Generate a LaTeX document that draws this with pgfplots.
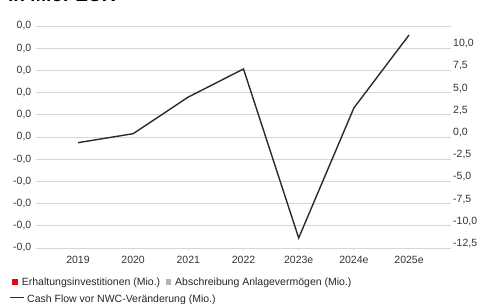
\documentclass[border=0pt]{standalone}
\usepackage{pgfplots}
\pgfplotsset{compat=1.18}
\usepackage{fontspec}
\setmainfont{Liberation Sans}
\definecolor{gridc}{HTML}{D6D6D6}
\definecolor{linec}{HTML}{2B2B2B}
\definecolor{txt}{HTML}{333333}
\definecolor{redc}{HTML}{E30613}
\definecolor{grayc}{HTML}{B3B3B3}
\begin{document}
\fontsize{10.5}{12}\selectfont
\begin{tikzpicture}[x=1pt,y=1pt]
\useasboundingbox (0,0) rectangle (482,304);
\begin{axis}[
  at={(36pt,56pt)}, anchor=south west, scale only axis,
  width=415pt, height=222pt,
  xmin=-0.76, xmax=6.76, ymin=-5, ymax=5,
  axis x line*=bottom, axis y line*=left, axis line style={draw=none},
  /pgf/number format/assume math mode=true,
  xtick={0,1,2,3,4,5,6},
  xticklabels={2019,2020,2021,2022,2023e,2024e,2025e},
  xtick style={draw=gridc, line width=0.8pt},
  major tick length=2.5pt, tick align=outside,
  xticklabel style={font=\fontsize{10.5}{12}\selectfont, text=txt, inner sep=0pt, anchor=north, yshift=-5pt},
  ytick={-5,-4,-3,-2,-1,0,1,2,3,4,5},
  yticklabels={{-0,0},{-0,0},{-0,0},{-0,0},{-0,0},{0,0},{0,0},{0,0},{0,0},{0,0},{0,0}},
  ytick style={draw=none},
  yticklabel style={font=\fontsize{10.5}{12}\selectfont, text=txt, inner sep=0pt, anchor=east, xshift=-2pt},
  ymajorgrids, grid style={draw=gridc, line width=0.8pt},
]
\addplot[draw=none] coordinates {(0,0)};
\end{axis}
\begin{axis}[
  at={(36pt,56pt)}, anchor=south west, scale only axis,
  width=415pt, height=222pt,
  xmin=-0.76, xmax=6.76, ymin=-13, ymax=12,
  axis y line*=right, axis x line=none, axis line style={draw=none},
  /pgf/number format/assume math mode=true,
  ytick={-12.5,-10,-7.5,-5,-2.5,0,2.5,5,7.5,10},
  yticklabels={{-12,5},{-10,0},{-7,5},{-5,0},{-2,5},{0,0},{2,5},{5,0},{7,5},{10,0}},
  ytick style={draw=none},
  yticklabel style={font=\fontsize{10.5}{12}\selectfont, text=txt, inner sep=0pt, anchor=west, xshift=2pt},
]
\addplot[linec, line width=1.4pt] coordinates {(0,-1.14) (1,-0.13) (2,4.0) (3,7.16) (4,-11.87) (5,2.77) (6,10.99)};
\end{axis}
\node[anchor=base west, inner sep=0pt, font=\bfseries\fontsize{19}{22}\selectfont] at (8,302) {in Mio. EUR};
\fill[redc] (11.5,19) rectangle (17.5,25);
\node[anchor=base west, inner sep=0pt, text=black!85] at (21.7,18.3) {Erhaltungsinvestitionen (Mio.)};
\fill[grayc] (165.5,19) rectangle (171.3,25);
\node[anchor=base west, inner sep=0pt, text=black!85] at (175,18.3) {Abschreibung Anlagevermögen (Mio.)};
\draw[linec, line width=1.3pt] (10,6.3) -- (24,6.3);
\node[anchor=base west, inner sep=0pt, text=black!85] at (27,1.3) {Cash Flow vor NWC-Veränderung (Mio.)};
\end{tikzpicture}
\end{document}
